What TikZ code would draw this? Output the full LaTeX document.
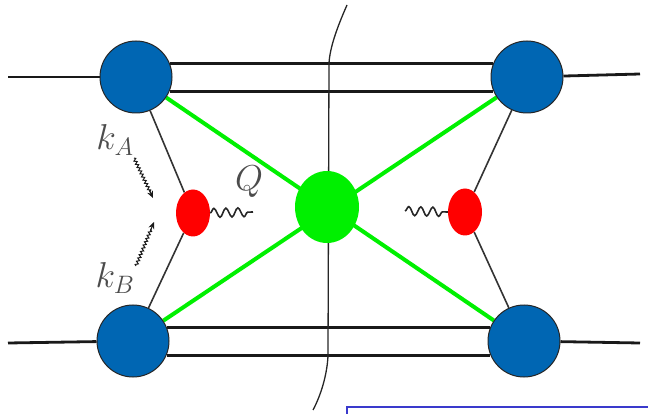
\RequirePackage{fix-cm}
\documentclass[tikz,border=0pt]{standalone}
\usetikzlibrary{decorations.pathmorphing,arrows.meta,backgrounds,shapes.geometric,calc}
\definecolor{blobblue}{RGB}{0,102,179}
\definecolor{gluon}{RGB}{0,240,0}
\definecolor{boxblue}{RGB}{58,58,204}
\tikzset{
  blob/.style={circle,draw=black!85,line width=1pt,fill=blobblue,minimum size=72pt,inner sep=0pt},
  redblob/.style={ellipse,fill=red,minimum width=34pt,minimum height=47pt,inner sep=0pt},
  greenblob/.style={ellipse,fill=gluon,minimum width=64pt,minimum height=72pt,inner sep=0pt},
  leg/.style={black!90,line width=2.8pt},
  thinline/.style={black!80,line width=1.6pt},
  gline/.style={gluon,line width=4pt},
  photon/.style={black!85,line width=1.6pt,decorate,decoration={snake,amplitude=4.5pt,segment length=12pt}},
  momline/.style={black!90,line width=1pt,decorate,decoration={snake,amplitude=1.4pt,segment length=3.5pt}},
  momtip/.style={black!90,line width=1pt,-{Stealth[length=7pt,width=6pt]}},
  lab/.style={text=black!70,font=\fontsize{36}{40}\selectfont}
}
\begin{document}
\begin{tikzpicture}[x=1pt,y=-1pt]
\useasboundingbox (0,0) rectangle (648,414);
% blobs
\node[blob] (tl) at (136,77) {};
\node[blob] (tr) at (527,77) {};
\node[blob] (bl) at (133,341) {};
\node[blob] (br) at (524,341) {};
\node[redblob] (rl) at (193,213) {};
\node[redblob] (rr) at (465,212) {};
\node[greenblob] (g) at (327,207) {};
% free ends
\coordinate (inTL) at (8,77);
\coordinate (outTR) at (640,74);
\coordinate (inBL) at (8,343);
\coordinate (outBR) at (640,343);
\coordinate (qL) at (253,212);
\coordinate (qR) at (405,211);
\coordinate (cutA) at (347,5);
\coordinate (cutB) at (329,63);
\coordinate (cutC) at (328,356);
\coordinate (cutD) at (313,410);
\coordinate (kas) at (134,158);
\coordinate (kae) at (153,198);
\coordinate (kbs) at (136,266);
\coordinate (kbe) at (154,222);
\coordinate (boxA) at (347,416);
\coordinate (boxB) at (347,407);
\coordinate (boxC) at (650,407);
\begin{scope}[on background layer]
  \draw[leg] (inTL) -- (tl);
  \draw[leg] (tr) -- (outTR);
  \draw[leg] (inBL) -- (bl);
  \draw[leg] (br) -- (outBR);
  \draw[leg] (tl.22) -- (tr.158);
  \draw[leg] (tl.-23) -- (tr.-157);
  \draw[leg] (bl.22) -- (br.158);
  \draw[leg] (bl.-23) -- (br.-157);
  \draw[thinline] (tl) -- (rl);
  \draw[thinline] (rl) -- (bl);
  \draw[thinline] (tr) -- (rr);
  \draw[thinline] (rr) -- (br);
  \draw[gline] (tl) -- (br);
  \draw[gline] (bl) -- (tr);
  \draw[black!85,line width=1.3pt] (cutA) .. controls (336,30) and (330,48) .. (cutB) -- (cutC) .. controls (327,375) and (321,395) .. (cutD);
\end{scope}
\draw[photon] (rl.east) -- (qL);
\draw[photon] (qR) -- (rr.west);
\draw[momline] (kas) -- ($(kas)!0.85!(kae)$);
\draw[momtip] ($(kas)!0.8!(kae)$) -- (kae);
\draw[momline] (kbs) -- ($(kbs)!0.85!(kbe)$);
\draw[momtip] ($(kbs)!0.8!(kbe)$) -- (kbe);
\node[lab] (Q) at (249,182) {$Q$};
\node[lab] (kA) at (115,140) {$k_A$};
\node[lab] (kB) at (115,278) {$k_B$};
\draw[boxblue,line width=2pt] (boxA) -- (boxB) -- (boxC);
\end{tikzpicture}
\end{document}
